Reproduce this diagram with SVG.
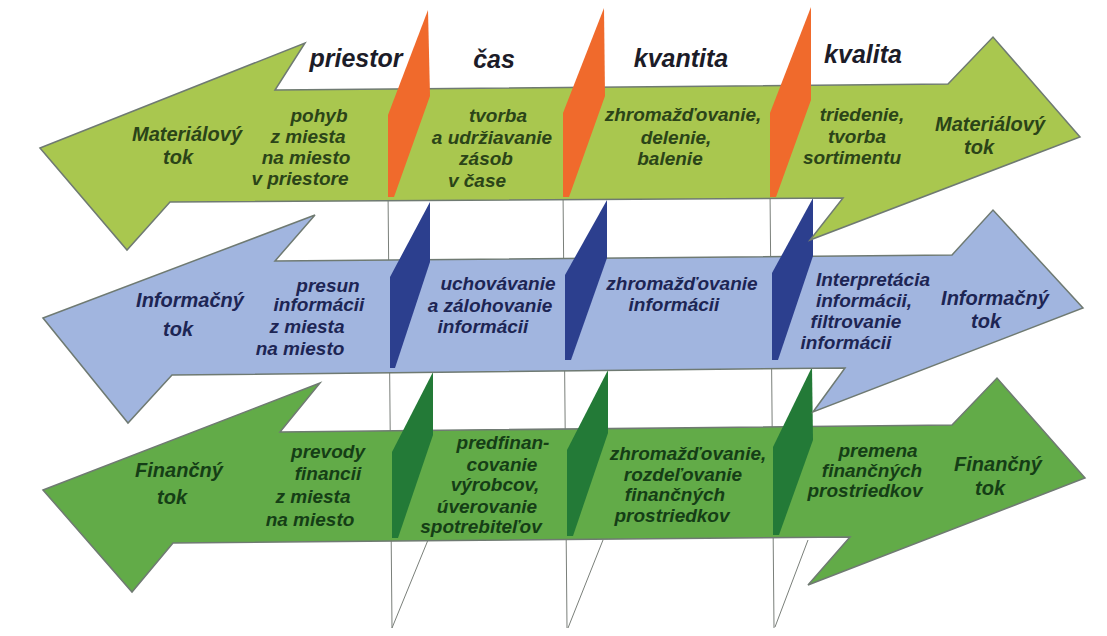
<svg xmlns="http://www.w3.org/2000/svg" width="1107" height="636" viewBox="0 0 1107 636">
<style>
.arrow{stroke:#6f7a72;stroke-width:1.5;stroke-linejoin:miter}
.mat{fill:#a9c74f}
.inf{fill:#a1b5df}
.fin{fill:#62ab48}
.orange{fill:#f06a2c}
.dblue{fill:#2c3f8e}
.dgreen{fill:#237a37}
.guide{stroke:#7a7f7a;stroke-width:1;fill:none}
text{font-family:"Liberation Sans",Arial,sans-serif;font-weight:bold;font-style:italic;text-anchor:middle}
.hdr{font-size:25px;fill:#1c1c28}
.big{font-size:20px}
.t{font-size:19px}
.tm{fill:#2b4418}
.ti{fill:#1d2554}
.tf{fill:#153e16}
</style>
<g id="connectors">
<path class="guide" d="M388,190 L392,628 M428,540 L392,628"/>
<path class="guide" d="M563,190 L567,628 M603,540 L568,628"/>
<path class="guide" d="M770,190 L774,628 M808,540 L775,627"/>
</g>
<g id="financny-tok">
<polygon class="arrow fin" points="43,490 320,383 280,432 952,425 997,378 1085,478 808,585 850,537 173,543 132,592"/>
</g>
<g id="planes-green">
<polygon class="dgreen" points="433,372 433,435 398,538 392,538 392,452"/>
<polygon class="dgreen" points="608,370 608,433 573,536 567,536 567,450"/>
<polygon class="dgreen" points="812,367 813,440 779,535 773,535 773,447"/>
</g>
<g id="informacny-tok">
<polygon class="arrow inf" points="43,318 315,215 275,261 952,255 993,210 1083,308 813,412 845,368 172,375 128,423"/>
</g>
<g id="planes-blue">
<polygon class="dblue" points="430,202 430,262 395,368 390,368 390,277"/>
<polygon class="dblue" points="607,200 607,258 571,360 565,360 565,275"/>
<polygon class="dblue" points="813,198 813,256 778,360 772,360 772,273"/>
</g>
<g id="materialovy-tok">
<polygon class="arrow mat" points="40,148 305,43 275,90 948,84 993,37 1080,137 810,240 843,198 170,202 127,250"/>
</g>
<g id="planes-orange">
<polygon class="orange" points="428,10 430,96 394,197 388,197 388,115"/>
<polygon class="orange" points="604,8 605,96 569,197 563,197 563,113"/>
<polygon class="orange" points="811,7 811,100 776,197 770,197 770,113"/>
</g>
<g id="headers">
<text class="hdr" x="356" y="67">priestor</text>
<text class="hdr" x="494" y="68">čas</text>
<text class="hdr" x="681" y="67">kvantita</text>
<text class="hdr" x="863" y="63">kvalita</text>
</g>
<g id="material-texts" class="tm">
<text class="big" x="187" y="141">Materiálový</text>
<text class="big" x="178" y="164">tok</text>
<text class="t" x="319" y="122">pohyb</text>
<text class="t" x="308" y="143">z miesta</text>
<text class="t" x="306" y="164">na miesto</text>
<text class="t" x="300" y="185">v priestore</text>
<text class="t" x="498" y="122">tvorba</text>
<text class="t" x="492" y="144">a udržiavanie</text>
<text class="t" x="486" y="165">zásob</text>
<text class="t" x="477" y="187">v čase</text>
<text class="t" x="683" y="121">zhromažďovanie,</text>
<text class="t" x="676" y="144">delenie,</text>
<text class="t" x="670" y="165">balenie</text>
<text class="t" x="862" y="121">triedenie,</text>
<text class="t" x="857" y="143">tvorba</text>
<text class="t" x="852" y="164">sortimentu</text>
<text class="big" x="990" y="131">Materiálový</text>
<text class="big" x="979" y="154">tok</text>
</g>
<g id="info-texts" class="ti">
<text class="big" x="190" y="307">Informačný</text>
<text class="big" x="178" y="336">tok</text>
<text class="t" x="328" y="292">presun</text>
<text class="t" x="319" y="311">informácii</text>
<text class="t" x="307" y="333">z miesta</text>
<text class="t" x="300" y="355">na miesto</text>
<text class="t" x="498" y="290">uchovávanie</text>
<text class="t" x="490" y="312">a zálohovanie</text>
<text class="t" x="483" y="333">informácii</text>
<text class="t" x="682" y="290">zhromažďovanie</text>
<text class="t" x="674" y="311">informácii</text>
<text class="t" x="873" y="286">Interpretácia</text>
<text class="t" x="864" y="307">informácii,</text>
<text class="t" x="856" y="328">filtrovanie</text>
<text class="t" x="846" y="349">informácii</text>
<text class="big" x="995" y="305">Informačný</text>
<text class="big" x="986" y="328">tok</text>
</g>
<g id="fin-texts" class="tf">
<text class="big" x="179" y="477">Finančný</text>
<text class="big" x="172" y="504">tok</text>
<text class="t" x="328" y="458">prevody</text>
<text class="t" x="328" y="480">financii</text>
<text class="t" x="313" y="503">z miesta</text>
<text class="t" x="310" y="526">na miesto</text>
<text class="t" x="503" y="449">predfinan-</text>
<text class="t" x="502" y="471">covanie</text>
<text class="t" x="495" y="491">výrobcov,</text>
<text class="t" x="487" y="513">úverovanie</text>
<text class="t" x="481" y="533">spotrebiteľov</text>
<text class="t" x="688" y="460">zhromažďovanie,</text>
<text class="t" x="683" y="481">rozdeľovanie</text>
<text class="t" x="675" y="501">finančných</text>
<text class="t" x="672" y="522">prostriedkov</text>
<text class="t" x="878" y="457">premena</text>
<text class="t" x="872" y="477">finančných</text>
<text class="t" x="865" y="497">prostriedkov</text>
<text class="big" x="998" y="471">Finančný</text>
<text class="big" x="990" y="495">tok</text>
</g>
</svg>
